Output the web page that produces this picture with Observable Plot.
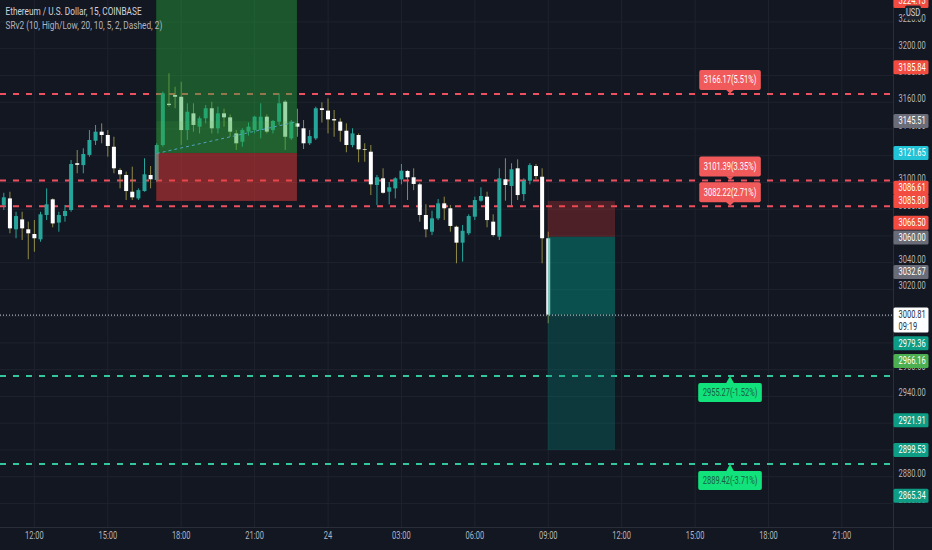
<!DOCTYPE html>
<html><head><meta charset="utf-8">
<script src="https://cdn.jsdelivr.net/npm/d3@7"></script>
<script src="https://cdn.jsdelivr.net/npm/@observablehq/plot@0.6"></script>
<style>
html,body{margin:0;padding:0;background:#131722;}
#chart{width:932px;height:550px;overflow:hidden;}
</style></head><body><div id="chart"></div>
<script>
// ---------- data ----------
const HEADER1 = "Ethereum / U.S. Dollar, 15, COINBASE";
const HEADER2 = "SRv2 (10, High/Low, 20, 10, 5, 2, Dashed, 2)";

// 15-minute bars, first bar 23rd 10:45, last bar 24th 09:00 (hours since 23rd 00:00)
const FIRST_BAR = 10.75, BAR_H = 0.25;
const opens = [3082.8,3087.7,3064.6,3072.0,3064.6,3061.1,3057.1,3075.3,3087.0,3069.6,
3074.5,3079.0,3114.0,3112.6,3120.2,3130.8,3137.6,3135.1,3126.3,3108.9,
3105.2,3092.7,3087.7,3093.2,3105.2,3101.4,3127.6,3158.5,3165.0,3163.7,
3138.8,3151.3,3141.3,3147.6,3155.1,3140.1,3151.3,3148.3,3136.3,3130.1,
3137.6,3138.8,3138.8,3148.8,3138.8,3145.1,3160.0,3132.6,3143.8,3140.1,
3128.9,3132.6,3155.1,3153.3,3147.0,3145.1,3138.3,3127.6,3135.1,3124.4,
3122.6,3097.7,3102.7,3092.7,3095.2,3101.9,3108.2,3103.5,3098.2,3075.3,
3062.8,3072.8,3084.0,3080.3,3066.5,3054.6,3061.6,3074.0,3086.0,3089.0,
3070.3,3059.1,3102.0,3097.0,3110.2,3090.9,3100.9,3111.9,3103.9,3057.9];
const highs = [3091.9,3092.7,3077.7,3077.7,3070.3,3071.5,3077.7,3095.2,3087.7,3077.7,
3082.8,3116.4,3123.9,3125.2,3138.8,3142.6,3143.8,3138.8,3133.8,3110.2,
3107.7,3111.4,3095.2,3117.7,3111.9,3128.9,3167.5,3181.2,3171.2,3174.9,
3158.8,3158.8,3149.0,3157.5,3160.0,3156.3,3154.8,3150.5,3138.8,3140.1,
3144.4,3149.5,3158.8,3150.5,3146.3,3166.3,3161.3,3146.3,3154.8,3146.3,
3138.8,3156.3,3159.5,3162.5,3153.8,3147.6,3143.8,3140.1,3136.3,3128.9,
3127.6,3105.2,3110.2,3099.9,3103.5,3113.4,3109.0,3110.2,3099.4,3083.3,
3078.5,3087.2,3089.0,3082.8,3067.3,3067.8,3075.8,3089.0,3096.0,3092.7,
3075.8,3110.2,3117.7,3114.0,3116.9,3102.7,3114.0,3113.4,3110.2,3062.8];
const lows = [3079.0,3061.6,3057.9,3056.6,3042.2,3047.8,3055.3,3071.5,3066.1,3062.8,
3070.3,3077.7,3106.5,3106.5,3118.9,3127.6,3128.9,3118.9,3106.5,3095.2,
3086.5,3086.5,3086.5,3092.7,3095.2,3100.2,3126.4,3156.3,3155.1,3127.6,
3131.4,3137.6,3136.3,3143.8,3136.3,3136.3,3141.3,3133.8,3123.9,3126.4,
3134.6,3136.3,3132.6,3136.3,3136.3,3142.6,3123.9,3131.4,3133.8,3124.6,
3127.6,3131.4,3144.4,3136.3,3133.8,3130.1,3122.2,3125.9,3114.7,3115.1,
3090.2,3082.8,3091.2,3083.3,3087.7,3098.2,3086.5,3093.9,3070.3,3058.6,
3060.3,3071.5,3071.5,3062.8,3039.2,3040.4,3060.3,3071.5,3085.3,3066.1,
3059.1,3056.6,3086.0,3082.0,3086.5,3085.7,3098.2,3102.0,3039.2,2994.3];
const closes = [3088.5,3065.3,3074.5,3065.3,3061.6,3057.9,3075.8,3083.3,3069.0,3075.3,
3078.3,3113.4,3112.8,3120.9,3131.4,3137.6,3135.1,3126.9,3110.2,3105.7,
3093.2,3088.5,3093.9,3105.7,3102.0,3127.6,3166.3,3157.5,3163.7,3138.8,
3152.5,3142.6,3147.6,3155.1,3140.1,3151.3,3148.3,3137.6,3128.9,3138.8,
3141.3,3148.8,3148.8,3137.6,3145.6,3158.8,3133.8,3145.1,3141.3,3128.9,
3134.3,3155.1,3153.8,3146.8,3146.0,3138.3,3127.6,3136.3,3124.4,3123.9,
3098.2,3103.5,3091.9,3096.0,3102.7,3108.4,3103.5,3098.5,3075.3,3064.6,
3072.8,3084.0,3080.3,3067.1,3054.6,3063.5,3074.5,3086.5,3089.5,3071.5,
3060.3,3102.7,3097.7,3109.5,3090.2,3100.9,3112.6,3104.4,3057.9,3000.81];

const lastPrice = 3000.81;
const lastCountdown = "09:19";

const resLevels = [3166.17, 3101.39, 3082.22];
const resTexts = ["3166.17(5.51%)", "3101.39(3.35%)", "3082.22(2.71%)"];
const supLevels = [2955.27, 2889.42];
const supTexts = ["2955.27(-1.52%)", "2889.42(-3.71%)"];
const TAG_T = 40.45; // time where the level tags are anchored

const longPos = {start: 17.0, end: 22.75, entry: 3121.65, stop: 3085.80, close: 3145.51};
const shortPos = {start: 33.0, end: 35.75, entry: 3059.0, stop: 3085.80, target: 2899.53, last: 3000.81};

const hourTicks = [12,15,18,21,24,27,30,33,36,39,42,45];
const hourLabels = ["12:00","15:00","18:00","21:00","24","03:00","06:00","09:00","12:00","15:00","18:00","21:00"];
const priceTicks = [2860,2880,2900,2920,2940,2960,2980,3000,3020,3040,3060,3080,3100,3120,3140,3160,3180,3200,3220];

const axisTagValues = [3224.13,3185.84,3145.51,3121.65,3086.61,3085.80,3066.50,3060.00,3032.67,2979.36,2966.16,2921.91,2899.53,2865.34];
const axisTagKinds  = ["red","red","gray","cyan","red","red","red","gray","gray","teal","green","teal","teal","teal"];
const axisTagNudge  = {"3224.13": -15, "3086.61": -12, "3066.50": -4, "3060.00": 2}; // label stacking (px)

const X_DOMAIN = [10.615, 47.11];
const Y_DOMAIN = [2842.0, 3236.04];

// ---------- style ----------
const BG = "#131722", GRID = "#1f232e", AXIS_TXT = "#b2b5be", SEP = "#2a2e39";
const UP = "#26a69a", DOWN = "#ffffff", UP_WICK = "#26a69a", DOWN_WICK = "#8f8b45";
const RED_LINE = "#ef5060", GREEN_LINE = "#34c79c";
const TAG_COLORS = {red: "#f24b40", gray: "#6a6d78", cyan: "#22c3d6", teal: "#0e9c84", green: "#4caf50"};
const SQ = 0.75;
const FONT = "Roboto, 'Noto Sans', sans-serif";

const candles = opens.map((o, i) => ({t: FIRST_BAR + i * BAR_H, o, h: highs[i], l: lows[i], c: closes[i], up: closes[i] >= o}));

// tick labels completely hidden behind a price tag are not drawn
const allTags = axisTagValues.concat([lastPrice]);
const visibleTicks = priceTicks.filter(p => !allTags.some(v => Math.abs(v - p) < 3));

const mctx = document.createElement("canvas").getContext("2d");
function measure(s, size) { mctx.font = `${size}px Roboto`; return mctx.measureText(s).width * SQ; }

function levelTags(index, scales, values, dims) {
  const {x, y} = scales;
  const g = d3.create("svg:g");
  const px = x(TAG_T);
  resLevels.forEach((v, i) => {
    const py = y(v), w = measure(resTexts[i], 10) + 9;
    g.append("rect").attr("x", px - w/2).attr("y", py - 23.5).attr("width", w).attr("height", 20).attr("rx", 2).attr("fill", "#f15a5a");
    g.append("path").attr("d", `M${px-4},${py-3.8}L${px+4},${py-3.8}L${px},${py}Z`).attr("fill", "#f15a5a");
    g.append("text").attr("x", px).attr("y", py - 13.5).attr("text-anchor", "middle").attr("dominant-baseline", "central")
      .attr("fill", "#ffffff").attr("font-size", 10).text(resTexts[i]);
  });
  supLevels.forEach((v, i) => {
    const py = y(v), w = measure(supTexts[i], 10) + 9;
    g.append("rect").attr("x", px - w/2).attr("y", py + 7.5).attr("width", w).attr("height", 19).attr("rx", 2).attr("fill", "#12e27c");
    g.append("path").attr("d", `M${px-4},${py+7.8}L${px+4},${py+7.8}L${px},${py+0.5}Z`).attr("fill", "#12e27c");
    g.append("text").attr("x", px).attr("y", py + 17).attr("text-anchor", "middle").attr("dominant-baseline", "central")
      .attr("fill", "#17603f").attr("font-size", 10).text(supTexts[i]);
  });
  return g.node();
}

function axisPanel(index, scales, values, dims) {
  const {y} = scales;
  const g = d3.create("svg:g").attr("text-anchor", "start");
  const x0 = dims.width - dims.marginRight;
  const yb = dims.height - dims.marginBottom;
  g.append("line").attr("x1", x0 + 0.5).attr("x2", x0 + 0.5).attr("y1", 0).attr("y2", dims.height).attr("stroke", SEP);
  g.append("line").attr("x1", 0).attr("x2", dims.width).attr("y1", yb + 0.5).attr("y2", yb + 0.5).attr("stroke", SEP);
  axisTagValues.forEach((v, i) => {
    const key = v.toFixed(2);
    const cy = y(v) + (axisTagNudge[key] || 0);
    g.append("rect").attr("x", x0 + 0.5).attr("y", cy - 7).attr("width", 35).attr("height", 14).attr("rx", 1.5)
      .attr("fill", TAG_COLORS[axisTagKinds[i]]);
    g.append("text").attr("x", x0 + 5.5).attr("y", cy).attr("text-anchor", "start").attr("dominant-baseline", "central")
      .attr("fill", "#ffffff").attr("font-size", 10).text(key);
  });
  // current price tag (two lines)
  const cy = y(lastPrice);
  g.append("rect").attr("x", x0 + 0.5).attr("y", cy - 7).attr("width", 35).attr("height", 25).attr("rx", 1.5)
    .attr("fill", "#ffffff");
  g.append("text").attr("x", x0 + 5.5).attr("y", cy).attr("text-anchor", "start").attr("dominant-baseline", "central")
    .attr("fill", "#2a2e39").attr("font-size", 10).text(lastPrice.toFixed(2));
  g.append("text").attr("x", x0 + 5.5).attr("y", cy + 12).attr("text-anchor", "start").attr("dominant-baseline", "central")
    .attr("fill", "#2a2e39").attr("font-size", 10).text(lastCountdown);
  // currency box
  g.append("rect").attr("x", x0 + 12).attr("y", 5.5).attr("width", 16).attr("height", 14).attr("rx", 2).attr("fill", "#1e222d");
  g.append("text").attr("x", x0 + 20).attr("y", 12.5).attr("text-anchor", "middle").attr("dominant-baseline", "central")
    .attr("fill", "#d1d4dc").attr("font-size", 10).text("USD");
  return g.node();
}

const svg = Plot.plot({
  width: 932, height: 550,
  marginTop: 0, marginBottom: 23, marginLeft: 0, marginRight: 39,
  x: {domain: X_DOMAIN, axis: null},
  y: {domain: Y_DOMAIN, axis: null},
  color: {type: "identity"},
  style: {fontFamily: FONT, fontSize: "10px", background: BG, color: AXIS_TXT, overflow: "hidden"},
  marks: [
    Plot.gridX(hourTicks, {stroke: GRID, strokeOpacity: 1}),
    Plot.gridY(priceTicks, {stroke: GRID, strokeOpacity: 1}),
    Plot.ruleY(resLevels, {y: d => d, stroke: RED_LINE, strokeWidth: 2, strokeDasharray: "6,7"}),
    Plot.ruleY(supLevels, {y: d => d, stroke: GREEN_LINE, strokeWidth: 2, strokeDasharray: "6,7"}),
    Plot.ruleX(candles, {x: "t", y1: "l", y2: "h", stroke: d => d.up ? UP_WICK : DOWN_WICK, strokeWidth: 1}),
    Plot.ruleX(candles, {x: "t", y1: "o", y2: "c", stroke: d => d.up ? UP : DOWN, strokeWidth: 4}),
    // long position tool
    Plot.rect([longPos], {x1: "start", x2: "end", y1: "entry", y2: () => Y_DOMAIN[1], fill: "#26a43a", fillOpacity: 0.45}),
    Plot.rect([longPos], {x1: "start", x2: "end", y1: "entry", y2: "close", fill: "#4caf50", fillOpacity: 0.13}),
    Plot.rect([longPos], {x1: "start", x2: "end", y1: "stop", y2: "entry", fill: "#e53935", fillOpacity: 0.5}),
    Plot.link([longPos], {x1: "start", y1: "entry", x2: "end", y2: "close", stroke: "#4fa3bd", strokeDasharray: "3,3", strokeWidth: 1}),
    // short position tool
    Plot.rect([shortPos], {x1: "start", x2: "end", y1: "entry", y2: "stop", fill: "#e53935", fillOpacity: 0.28}),
    Plot.rect([shortPos], {x1: "start", x2: "end", y1: "last", y2: "entry", fill: "#00897b", fillOpacity: 0.5}),
    Plot.rect([shortPos], {x1: "start", x2: "end", y1: "target", y2: "last", fill: "#00897b", fillOpacity: 0.3}),
    Plot.ruleY([lastPrice], {y: d => d, stroke: "#d1d4dc", strokeWidth: 1, strokeDasharray: "1,2"}),
    Plot.text([HEADER1], {text: d => d, frameAnchor: "top-left", dx: 5, dy: 14, textAnchor: "start", fill: "#d1d4dc", fontSize: 11}),
    Plot.text([HEADER2], {text: d => d, frameAnchor: "top-left", dx: 5, dy: 28, textAnchor: "start", fill: AXIS_TXT, fontSize: 11}),
    levelTags,
    Plot.text(hourTicks, {x: d => d, text: (d, i) => hourLabels[i], frameAnchor: "bottom", dy: 11, fill: AXIS_TXT}),
    Plot.text(visibleTicks, {y: d => d, text: d => d.toFixed(2), frameAnchor: "right", dx: 5, textAnchor: "start", fill: AXIS_TXT}),
    axisPanel
  ]
});

// horizontal squeeze of all text, matching the narrow lettering of the reference
svg.querySelectorAll("text").forEach(t => {
  const x = +t.getAttribute("x") || 0, y = +t.getAttribute("y") || 0;
  t.removeAttribute("x"); t.removeAttribute("y");
  const tr = t.getAttribute("transform") || "";
  t.setAttribute("transform", `${tr} translate(${x},${y}) scale(${SQ},1)`);
});
document.getElementById("chart").appendChild(svg);
</script>
</body></html>
